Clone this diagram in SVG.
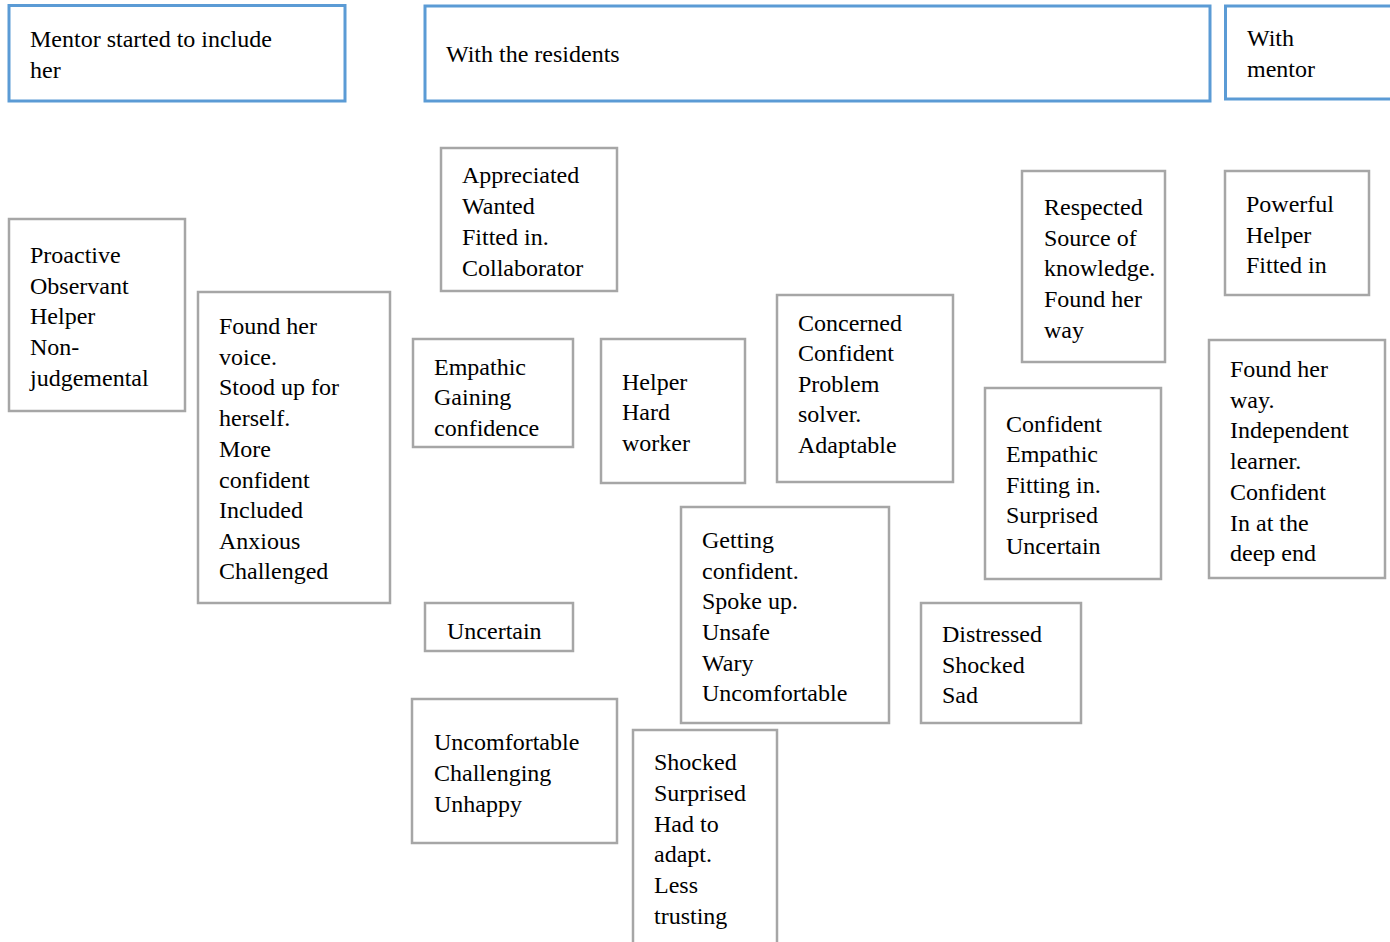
<svg xmlns="http://www.w3.org/2000/svg" width="1390" height="942" viewBox="0 0 1390 942">
<style>
.hb{fill:#fff;stroke:#5b9bd5;stroke-width:3}
.nb{fill:#fff;stroke:#a6a6a6;stroke-width:2.5}
text{font-family:'Liberation Serif','Times New Roman',Times,'Nimbus Roman','Nimbus Roman No9 L',FreeSerif,'Noto Serif','DejaVu Serif',serif;font-size:24px;fill:#000}
</style>
<rect width="1390" height="942" fill="#fff"/>
<g id="h1"><rect class="hb" x="9" y="5.5" width="336" height="95.5"/><text x="30" y="47">Mentor started to include</text><text x="30" y="78">her</text></g>
<g id="h2"><rect class="hb" x="425" y="6" width="785" height="95"/><text x="446" y="62">With the residents</text></g>
<g id="h3"><rect class="hb" x="1225.5" y="6" width="170" height="93"/><text x="1247" y="46">With</text><text x="1247" y="77">mentor</text></g>
<g id="n1"><rect class="nb" x="9" y="219" width="176" height="192"/><text x="30" y="263">Proactive</text><text x="30" y="294">Observant</text><text x="30" y="324">Helper</text><text x="30" y="355">Non-</text><text x="30" y="386">judgemental</text></g>
<g id="n2"><rect class="nb" x="198" y="292" width="192" height="311"/><text x="219" y="334">Found her</text><text x="219" y="365">voice.</text><text x="219" y="395">Stood up for</text><text x="219" y="426">herself.</text><text x="219" y="457">More</text><text x="219" y="488">confident</text><text x="219" y="518">Included</text><text x="219" y="549">Anxious</text><text x="219" y="579">Challenged</text></g>
<g id="n3"><rect class="nb" x="441" y="148" width="176" height="143"/><text x="462" y="183">Appreciated</text><text x="462" y="214">Wanted</text><text x="462" y="245">Fitted in.</text><text x="462" y="276">Collaborator</text></g>
<g id="n4"><rect class="nb" x="413" y="339" width="160" height="108"/><text x="434" y="375">Empathic</text><text x="434" y="405">Gaining</text><text x="434" y="436">confidence</text></g>
<g id="n5"><rect class="nb" x="601" y="339" width="144" height="144"/><text x="622" y="390">Helper</text><text x="622" y="420">Hard</text><text x="622" y="451">worker</text></g>
<g id="n6"><rect class="nb" x="777" y="295" width="176" height="187"/><text x="798" y="331">Concerned</text><text x="798" y="361">Confident</text><text x="798" y="392">Problem</text><text x="798" y="422">solver.</text><text x="798" y="453">Adaptable</text></g>
<g id="n7"><rect class="nb" x="1022" y="171" width="143" height="191"/><text x="1044" y="215">Respected</text><text x="1044" y="246">Source of</text><text x="1044" y="276">knowledge.</text><text x="1044" y="307">Found her</text><text x="1044" y="338">way</text></g>
<g id="n8"><rect class="nb" x="1225" y="171" width="144" height="124"/><text x="1246" y="212">Powerful</text><text x="1246" y="243">Helper</text><text x="1246" y="273">Fitted in</text></g>
<g id="n9"><rect class="nb" x="1209" y="340" width="176" height="238"/><text x="1230" y="377">Found her</text><text x="1230" y="408">way.</text><text x="1230" y="438">Independent</text><text x="1230" y="469">learner.</text><text x="1230" y="500">Confident</text><text x="1230" y="531">In at the</text><text x="1230" y="561">deep end</text></g>
<g id="n10"><rect class="nb" x="985" y="388" width="176" height="191"/><text x="1006" y="432">Confident</text><text x="1006" y="462">Empathic</text><text x="1006" y="493">Fitting in.</text><text x="1006" y="523">Surprised</text><text x="1006" y="554">Uncertain</text></g>
<g id="n11"><rect class="nb" x="681" y="507" width="208" height="216"/><text x="702" y="548">Getting</text><text x="702" y="579">confident.</text><text x="702" y="609">Spoke up.</text><text x="702" y="640">Unsafe</text><text x="702" y="671">Wary</text><text x="702" y="701">Uncomfortable</text></g>
<g id="n12"><rect class="nb" x="425" y="603" width="148" height="48"/><text x="447" y="639">Uncertain</text></g>
<g id="n13"><rect class="nb" x="921" y="603" width="160" height="120"/><text x="942" y="642">Distressed</text><text x="942" y="673">Shocked</text><text x="942" y="703">Sad</text></g>
<g id="n14"><rect class="nb" x="412" y="699" width="205" height="144"/><text x="434" y="750">Uncomfortable</text><text x="434" y="781">Challenging</text><text x="434" y="812">Unhappy</text></g>
<g id="n15"><rect class="nb" x="633" y="730" width="144" height="220"/><text x="654" y="770">Shocked</text><text x="654" y="801">Surprised</text><text x="654" y="832">Had to</text><text x="654" y="862">adapt.</text><text x="654" y="893">Less</text><text x="654" y="924">trusting</text></g>
<g id="connectors"></g>
</svg>
